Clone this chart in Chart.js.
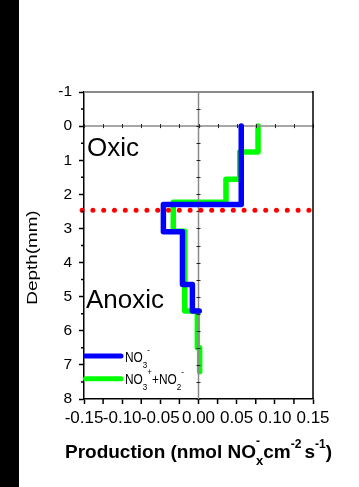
<!DOCTYPE html>
<html>
<head>
<meta charset="utf-8">
<script src="https://cdn.jsdelivr.net/npm/chart.js@4.4.1/dist/chart.umd.min.js"></script>
<style>
  html, body { margin: 0; padding: 0; background: #fff; }
  canvas { display: block; }
</style>
</head>
<body>
<canvas id="chart" width="359" height="487"></canvas>
<script>
// Axis ticks
const depthTicks = [-1, 0, 1, 2, 3, 4, 5, 6, 7, 8];
const productionTicks = [-0.15, -0.10, -0.05, 0.00, 0.05, 0.10, 0.15];

// NO3- production per depth layer; layer i spans no3Bounds[i]..no3Bounds[i+1] (mm)
const no3Rate = [0.056, -0.046, -0.021, -0.008, 0.001];
const no3Bounds = [0, 2.30, 3.10, 4.64, 5.42, 5.42];

// NO3- + NO2- production per depth layer
const noxRate = [0.078, 0.054, 0.036, -0.033, -0.018, -0.0015, 0.0015];
const noxBounds = [0, 0.76, 1.56, 2.23, 3.08, 5.42, 6.50, 7.20];

// Depth of the oxic / anoxic transition (mm)
const oxicBoundary = 2.47;

const FONT = '"Liberation Sans", Arial, sans-serif';

// Turn layer rates into the corner points of a step profile
function stepProfile(rates, bounds) {
  const pts = [];
  rates.forEach((r, i) => {
    pts.push({ x: r, y: bounds[i] });
    pts.push({ x: r, y: bounds[i + 1] });
  });
  return pts;
}

function midpoints(arr) {
  const out = [];
  for (let i = 0; i < arr.length - 1; i++) out.push((arr[i] + arr[i + 1]) / 2);
  return out;
}

// Draw a run of text pieces with sub/superscripts; returns total width
function richText(ctx, parts, x, baseline, weight, measureOnly) {
  let cx = x;
  let lastStart = x, lastWidth = 0;
  parts.forEach(p => {
    ctx.font = `${weight} ${p.size}px ${FONT}`;
    const w = ctx.measureText(p.t).width;
    let px = cx;
    if (p.stack) {
      px = lastStart;
      cx = lastStart + Math.max(w, lastWidth);
    } else {
      lastStart = cx;
      lastWidth = w;
      cx += w;
    }
    if (!measureOnly) ctx.fillText(p.t, px, baseline + (p.dy || 0));
  });
  return cx - x;
}

const decorations = {
  id: 'decorations',
  beforeDraw(chart) {
    const { ctx, width, height } = chart;
    ctx.save();
    ctx.fillStyle = '#fff';
    ctx.fillRect(0, 0, width, height);
    ctx.fillStyle = '#000';
    ctx.fillRect(0, 0, 19, height);
    ctx.restore();
  },
  beforeDatasetDraw(chart, args) {
    if (args.index !== 0) return;
    // zero lines through the plot, laid between the two profiles
    const { ctx, chartArea: a, scales: { x, y } } = chart;
    const x0 = x.getPixelForValue(0);
    const y0 = y.getPixelForValue(0);
    ctx.save();
    ctx.strokeStyle = '#8a8a8a';
    ctx.lineWidth = 1.5;
    ctx.beginPath();
    ctx.moveTo(x0, a.top); ctx.lineTo(x0, a.bottom);
    ctx.moveTo(a.left, y0); ctx.lineTo(a.right, y0);
    ctx.stroke();
    ctx.strokeStyle = '#222';
    ctx.lineWidth = 1;
    ctx.beginPath();
    depthTicks.concat(midpoints(depthTicks)).forEach(v => {
      const py = Math.round(y.getPixelForValue(v)) + 0.5;
      ctx.moveTo(x0 - 2, py); ctx.lineTo(x0 + 2, py);
    });
    productionTicks.concat(midpoints(productionTicks)).forEach(v => {
      const px = Math.round(x.getPixelForValue(v)) + 0.5;
      ctx.moveTo(px, y0 - 2); ctx.lineTo(px, y0 + 2);
    });
    ctx.stroke();
    ctx.restore();
  },
  afterDraw(chart) {
    const { ctx, chartArea: a, scales: { x, y } } = chart;
    ctx.save();
    // top and right frame
    ctx.strokeStyle = '#8a8a8a';
    ctx.lineWidth = 2;
    ctx.beginPath();
    ctx.moveTo(a.left, a.top); ctx.lineTo(a.right, a.top);
    ctx.stroke();
    ctx.strokeStyle = '#000';
    ctx.lineWidth = 1.5;
    ctx.beginPath();
    ctx.moveTo(a.right, a.top - 1); ctx.lineTo(a.right, a.bottom);
    ctx.stroke();
    // minor ticks
    ctx.beginPath();
    midpoints(depthTicks).forEach(v => {
      const py = y.getPixelForValue(v);
      ctx.moveTo(a.left, py); ctx.lineTo(a.left - 3, py);
    });
    midpoints(productionTicks).forEach(v => {
      const px = x.getPixelForValue(v);
      ctx.moveTo(px, a.bottom); ctx.lineTo(px, a.bottom + 5);
    });
    ctx.stroke();

    ctx.fillStyle = '#000';
    ctx.textAlign = 'left';
    ctx.textBaseline = 'alphabetic';

    // zone labels
    ctx.font = `26px ${FONT}`;
    ctx.fillText('Oxic', a.left + 3, 156);
    ctx.fillText('Anoxic', a.left + 2, 308);

    // legend
    const leg = [
      { color: '#0000ff', y: 356, parts: [
        { t: 'NO', size: 14 }, { t: '3', size: 9.5, dy: 6 }, { t: '-', size: 9.5, dy: -9 }] },
      { color: '#00ff00', y: 378.7, parts: [
        { t: 'NO', size: 14 }, { t: '3', size: 9.5, dy: 6 }, { t: '+', size: 9.5, dy: -9 },
        { t: '+NO', size: 14 }, { t: '2', size: 9.5, dy: 6 }, { t: '-', size: 9.5, dy: -9 }] }
    ];
    leg.forEach(item => {
      ctx.strokeStyle = item.color;
      ctx.lineWidth = 5;
      ctx.lineCap = 'round';
      ctx.beginPath();
      ctx.moveTo(a.left + 1.5, item.y); ctx.lineTo(a.left + 37, item.y);
      ctx.stroke();
      ctx.save();
      ctx.translate(a.left + 41, item.y + 5.5);
      ctx.scale(0.85, 1);
      richText(ctx, item.parts, 0, 0, 'normal', false);
      ctx.restore();
    });

    // y axis title
    ctx.save();
    ctx.translate(33, (a.top + a.bottom) / 2 + 12);
    ctx.rotate(-Math.PI / 2);
    ctx.scale(1.3, 1);
    ctx.font = `14.5px ${FONT}`;
    ctx.textAlign = 'center';
    ctx.textBaseline = 'middle';
    ctx.fillText('Depth(mm)', 0, 0);
    ctx.restore();

    // x axis title
    const title = [
      { t: 'Production (nmol NO', size: 19 },
      { t: 'x', size: 13, dy: 7 },
      { t: '-', size: 12, dy: -13, stack: true },
      { t: 'cm', size: 19 },
      { t: '-2', size: 12, dy: -10 },
      { t: ' ', size: 11 },
      { t: 's', size: 19 },
      { t: '-1', size: 12, dy: -10 },
      { t: ')', size: 19 }
    ];
    const tw = richText(ctx, title, 0, 0, 'bold', true);
    richText(ctx, title, (a.left + a.right) / 2 - tw / 2, 458, 'bold', false);
    ctx.restore();
  }
};

Chart.defaults.font.family = FONT;
Chart.defaults.color = '#000';

new Chart(document.getElementById('chart'), {
  type: 'line',
  data: {
    datasets: [
      {
        label: 'NO3-',
        data: stepProfile(no3Rate, no3Bounds),
        borderColor: '#0000ff',
        borderWidth: 5.5,
        borderJoinStyle: 'round',
        borderCapStyle: 'round',
        pointRadius: 0,
        order: 1
      },
      {
        label: 'NO3- + NO2-',
        data: stepProfile(noxRate, noxBounds),
        borderColor: '#00ff00',
        borderWidth: 5.5,
        borderJoinStyle: 'round',
        borderCapStyle: 'round',
        pointRadius: 0,
        order: 2
      },
      {
        label: 'oxic boundary',
        data: [
          { x: productionTicks[0] - 0.0025, y: oxicBoundary },
          { x: productionTicks[productionTicks.length - 1], y: oxicBoundary }
        ],
        borderColor: '#ff0000',
        borderWidth: 5,
        borderDash: [0, 10.8],
        borderDashOffset: 0,
        borderCapStyle: 'round',
        pointRadius: 0,
        clip: false,
        order: 0
      }
    ]
  },
  options: {
    responsive: false,
    animation: false,
    events: [],
    layout: { padding: { top: 92, right: 46, bottom: 58, left: 0 } },
    plugins: { legend: { display: false }, tooltip: { enabled: false }, title: { display: false } },
    scales: {
      x: {
        type: 'linear',
        min: productionTicks[0],
        max: productionTicks[productionTicks.length - 1],
        afterBuildTicks: s => { s.ticks = productionTicks.map(v => ({ value: v })); },
        afterFit: s => { s.height = 30; },
        ticks: {
          autoSkip: false,
          maxRotation: 0,
          padding: 4,
          font: { size: 17 },
          callback: v => v.toFixed(2)
        },
        grid: { display: true, drawOnChartArea: false, drawTicks: true, tickLength: 5,
                tickColor: '#000', tickWidth: 1.5, color: '#000' },
        border: { display: true, color: '#000', width: 1.5 }
      },
      y: {
        type: 'linear',
        reverse: true,
        min: depthTicks[0],
        max: depthTicks[depthTicks.length - 1],
        afterBuildTicks: s => { s.ticks = depthTicks.map(v => ({ value: v })); },
        afterFit: s => { s.width = 84; },
        ticks: { padding: 7, font: { size: 15.5 }, callback: v => String(v) },
        grid: { display: true, drawOnChartArea: false, drawTicks: true, tickLength: 5,
                tickColor: '#000', tickWidth: 1.5, color: '#000' },
        border: { display: true, color: '#000', width: 1.5 }
      }
    }
  },
  plugins: [decorations]
});
</script>
</body>
</html>
